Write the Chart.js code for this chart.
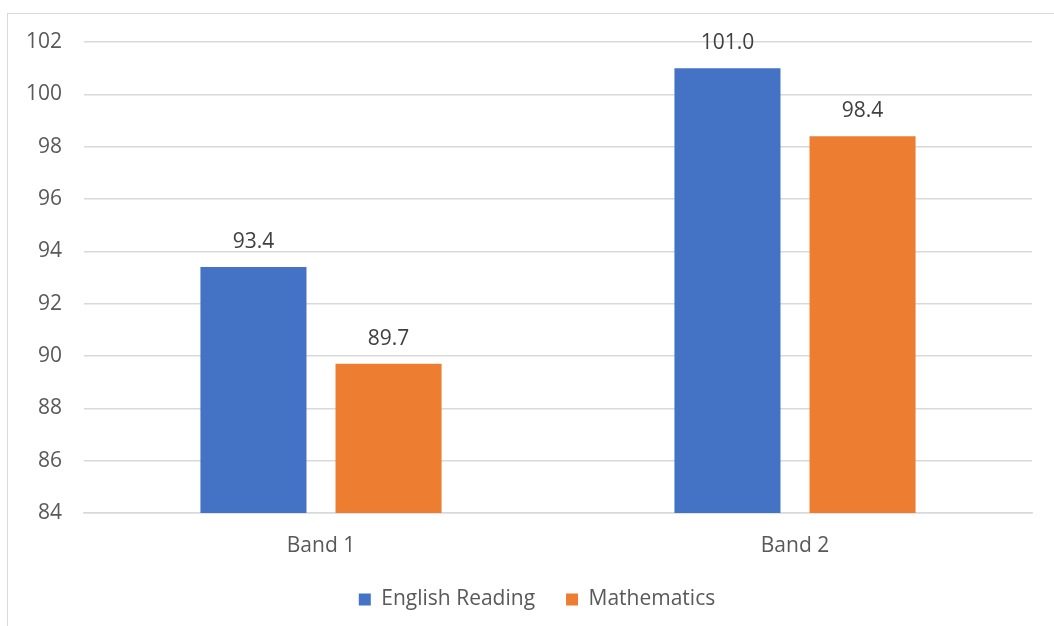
<!DOCTYPE html>
<html>
<head>
<meta charset="utf-8">
<script src="https://cdn.jsdelivr.net/npm/chart.js@4.4.1/dist/chart.umd.min.js"></script>
<style>
  html, body { margin: 0; padding: 0; background: #fff; }
  #wrap { position: relative; width: 1054px; height: 626px; overflow: hidden; }
  #frame { position: absolute; left: 7px; top: 13px; width: 1200px; height: 800px; border: 1px solid #d9d9d9; }
  #myChart { position: absolute; left: 0; top: 0; }
</style>
</head>
<body>
<div id="wrap">
  <div id="frame"></div>
  <canvas id="myChart" width="1054" height="626"></canvas>
</div>
<script>
const categories = ['Band 1', 'Band 2'];
const englishReading = [93.4, 101.0];
const mathematics = [89.7, 98.4];
const seriesNames = ['English Reading', 'Mathematics'];

const FONT = '"Open Sans", "Noto Sans", sans-serif';

// etiquetas de valor acima das barras
const valueLabels = {
    id: 'valueLabels',
    afterDatasetsDraw(chart) {
        const ctx = chart.ctx;
        ctx.save();
        ctx.font = '21px ' + FONT;
        ctx.fillStyle = '#404040';
        ctx.textAlign = 'center';
        ctx.textBaseline = 'middle';
        chart.data.datasets.forEach((ds, i) => {
            chart.getDatasetMeta(i).data.forEach((bar, j) => {
                ctx.fillText(ds.data[j].toFixed(1), bar.x, bar.y - 25);
            });
        });
        ctx.restore();
    }
};

// desloca a legenda para ficar centrada como no original
const moveLegend = {
    id: 'moveLegend',
    afterLayout(chart) {
        const lg = chart.legend;
        lg.left += 21; lg.right += 21;
        lg.top -= 6; lg.bottom -= 6;
    }
};

const ctx = document.getElementById('myChart').getContext('2d');
new Chart(ctx, {
    type: 'bar',
    data: {
        labels: categories,
        datasets: [{
            label: seriesNames[0],
            data: englishReading,
            backgroundColor: '#4472C4',
            categoryPercentage: 0.57,
            barPercentage: 0.785
        }, {
            label: seriesNames[1],
            data: mathematics,
            backgroundColor: '#ED7D31',
            categoryPercentage: 0.57,
            barPercentage: 0.785
        }]
    },
    options: {
        responsive: false,
        animation: false,
        layout: { padding: { top: 42, right: 22, left: 0, bottom: 0 } },
        scales: {
            y: {
                min: 84,
                max: 102,
                ticks: { stepSize: 2, padding: 22, color: '#595959', font: { family: FONT, size: 21 } },
                grid: { color: '#d9d9d9', lineWidth: 1.5, drawTicks: false },
                border: { display: false },
                afterFit(scale) { scale.width = 84; }
            },
            x: {
                ticks: { padding: 20, color: '#595959', font: { family: FONT, size: 21 } },
                grid: { display: false, drawTicks: false },
                border: { color: '#d9d9d9', width: 1.5 },
                afterFit(scale) { scale.height = 51; }
            }
        },
        plugins: {
            legend: {
                position: 'bottom',
                labels: {
                    boxWidth: 12,
                    boxHeight: 12,
                    padding: 31,
                    color: '#595959',
                    font: { family: FONT, size: 21 }
                }
            },
            tooltip: { enabled: false }
        }
    },
    plugins: [valueLabels, moveLegend]
});
</script>
</body>
</html>
